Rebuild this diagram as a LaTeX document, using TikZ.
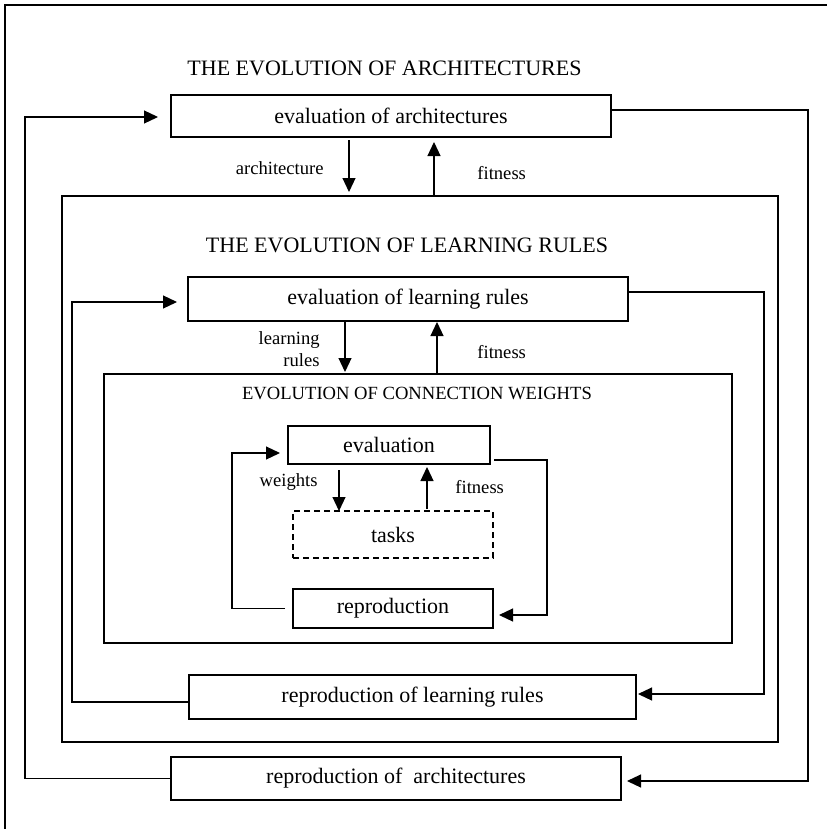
\documentclass[tikz,border=0pt]{standalone}
\usepackage{fontspec}
\setmainfont{Liberation Serif}
\usetikzlibrary{arrows.meta}

\begin{document}
\begin{tikzpicture}[x=0.5pt,y=-0.5pt,
  box/.style={draw,line width=0.6pt,inner sep=0pt,outer sep=0pt,font=\fontsize{11}{13}\selectfont},
  frame/.style={draw,line width=0.6pt,inner sep=0pt,outer sep=0pt},
  title/.style={inner sep=0pt,font=\fontsize{11}{13}\selectfont},
  lbl/.style={inner sep=0pt,font=\fontsize{9.3}{11}\selectfont},
  flow/.style={line width=0.6pt,-{Triangle[length=7pt,width=6.5pt]}},
  wire/.style={line width=0.6pt}]
\useasboundingbox (0,0) rectangle (827,829);
%
\draw[wire] (5,829) |- (827,5);
%
\node[frame,minimum width=358pt,minimum height=273pt] (framelr) at (420,469) {};
\node[frame,minimum width=314pt,minimum height=134.5pt] (framecw) at (418,508.5) {};
%
\node[title] (titlearch) at (384.5,68.5) {THE EVOLUTION OF ARCHITECTURES};
\node[title] (titlelr) at (407,245) {THE EVOLUTION OF LEARNING RULES};
\node[title,font=\fontsize{9.3}{11}\selectfont] (titlecw) at (417,393) {EVOLUTION OF CONNECTION WEIGHTS};
%
\node[box,minimum width=220pt,minimum height=21pt] (evalarch) at (391,116) {evaluation of architectures};
\node[box,minimum width=220pt,minimum height=22pt] (evallr) at (408,299) {evaluation of learning rules};
\node[box,minimum width=101pt,minimum height=19pt] (evalw) at (389,445) {evaluation};
\node[box,dashed,dash pattern=on 3pt off 2pt,minimum width=100pt,minimum height=23.5pt] (tasks) at (393,534.5) {tasks};
\node[box,minimum width=100pt,minimum height=19.5pt] (repro) at (393,608.5) {reproduction};
\node[box,minimum width=223.5pt,minimum height=22pt] (reprolr) at (412.5,697) {reproduction of learning rules};
\node[box,minimum width=225pt,minimum height=21.5pt] (reproarch) at (396,778.5) {reproduction of\ \ architectures};
%
\node[lbl,anchor=east] (lblarch) at (324,168) {architecture};
\node[lbl,anchor=west] (lblfitarch) at (477,173) {fitness};
\node[lbl,anchor=east,align=right] (lbllr) at (320,349) {learning\\rules};
\node[lbl,anchor=west] (lblfitlr) at (477,352) {fitness};
\node[lbl,anchor=east] (lblw) at (318,482) {weights};
\node[lbl,anchor=west] (lblfitw) at (455,487) {fitness};
%
\draw[flow,shorten <=1.5pt,shorten >=2pt] (349,0 |- evalarch.south) -- (349,0 |- framelr.north);
\draw[flow,shorten >=2.5pt] (434,0 |- framelr.north) -- (434,0 |- evalarch.south);
\draw[flow,shorten >=1pt] (345,0 |- evallr.south) -- (345,0 |- framecw.north);
\draw[flow,shorten >=0.5pt] (437,0 |- framecw.north) -- (437,0 |- evallr.south);
\draw[flow,shorten <=3pt] (339,0 |- evalw.south) -- (339,0 |- tasks.north);
\draw[flow,shorten <=1pt,shorten >=1.5pt] (427,0 |- tasks.north) -- (427,0 |- evalw.south);
%
\draw[flow,shorten >=6.5pt] (reproarch.west) -| (25,117) -- ([yshift=-0.5pt]evalarch.west);
\draw[flow,shorten >=5.5pt] ([yshift=-2.5pt]reprolr.west) -| (72,302) -- ([yshift=-1.5pt]evallr.west);
\draw[flow,shorten <=4pt,shorten >=4pt] (repro.west) -| (232,453) -- ([yshift=-4pt]evalw.west);
%
\draw[flow,shorten >=3pt] ([yshift=3pt]evalarch.east) -| (808,781) -- ([yshift=-1.25pt]reproarch.east);
\draw[flow,shorten >=1pt] ([yshift=3.5pt]evallr.east) -| (764,694) -- ([yshift=1.5pt]reprolr.east);
\draw[flow,shorten <=2pt,shorten >=3pt] ([yshift=-7.5pt]evalw.east) -| (547,615) -- ([yshift=-3.25pt]repro.east);
%
\end{tikzpicture}
\end{document}
